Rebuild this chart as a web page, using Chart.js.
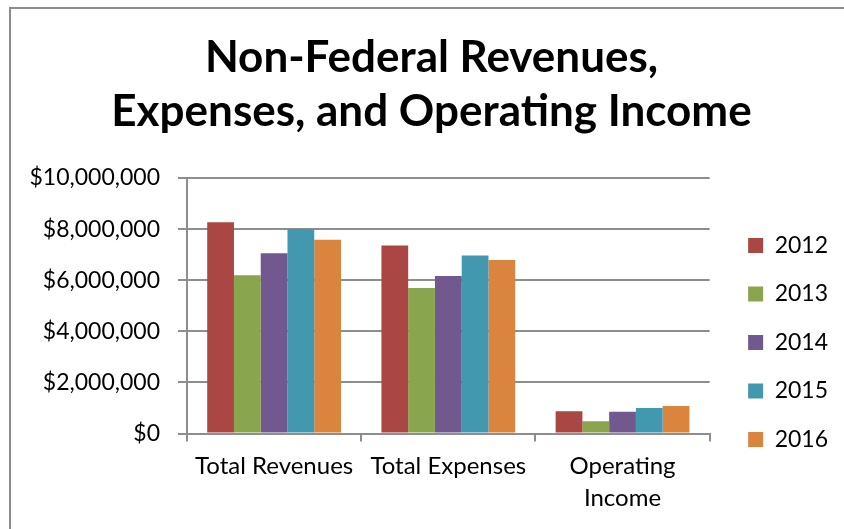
<!DOCTYPE html>
<html>
<head>
<meta charset="utf-8">
<script src="https://cdn.jsdelivr.net/npm/chart.js@4"></script>
<style>
  body { margin: 0; background: #fff; overflow: hidden; }
  #wrap { position: relative; width: 844px; height: 529px; }
  #frame { position: absolute; left: 9px; top: 7px; width: 900px; height: 600px;
           border-left: 2px solid #8c8c8c; border-top: 2px solid #8c8c8c; pointer-events: none; }
</style>
</head>
<body>
<div id="wrap">
  <canvas id="chart" width="844" height="529"></canvas>
  <div id="frame"></div>
</div>
<script>
const categories = ['Total Revenues', 'Total Expenses', ['Operating', 'Income']];
const years = ['2012', '2013', '2014', '2015', '2016'];
const colors = ['#AA4643', '#89A54E', '#71588F', '#4198AF', '#DB843D'];
// values per year: [revenues, expenses, operating income]
const v2012 = [8270000, 7360000, 875000];
const v2013 = [6190000, 5690000, 480000];
const v2014 = [7050000, 6160000, 850000];
const v2015 = [8000000, 6970000, 1000000];
const v2016 = [7580000, 6790000, 1080000];
const yTicks = [0, 2000000, 4000000, 6000000, 8000000, 10000000];

const series = [v2012, v2013, v2014, v2015, v2016];
const grey = '#8e8e8e';

new Chart(document.getElementById('chart'), {
    type: 'bar',
    data: {
        labels: categories,
        datasets: years.map((y, i) => ({
            label: y,
            data: series[i],
            backgroundColor: colors[i],
            borderWidth: 0
        }))
    },
    options: {
        responsive: false,
        animation: false,
        categoryPercentage: 0.768,
        barPercentage: 1,
        layout: { padding: { left: 25, right: 6, top: 0, bottom: 6.5 } },
        plugins: {
            title: {
                display: true,
                text: ['Non-Federal Revenues,', 'Expenses, and Operating Income'],
                color: '#000',
                font: { family: 'Lato', size: 44, weight: 'bold', lineHeight: '54px' },
                padding: { top: 31, bottom: 39 }
            },
            legend: {
                position: 'right',
                // empty title only pushes the items down
                title: { display: true, text: '', font: { size: 10, lineHeight: '10px' }, padding: { top: 152.5, bottom: 0 } },
                labels: {
                    boxWidth: 15, boxHeight: 15, padding: 25.5,
                    color: '#000',
                    font: { family: 'Lato', size: 23 }
                }
            },
            tooltip: { enabled: false }
        },
        scales: {
            x: {
                grid: { display: true, drawOnChartArea: false, offset: true, color: grey, lineWidth: 2, tickLength: 8 },
                border: { color: grey, width: 2 },
                ticks: { color: '#000', font: { family: 'Lato', size: 24, lineHeight: '32px' }, padding: 8.5, maxRotation: 0 }
            },
            y: {
                min: 0, max: 10000000,
                afterBuildTicks: axis => { axis.ticks = yTicks.map(v => ({ value: v })); },
                afterFit: s => { s.width = 162; },
                grid: { color: grey, lineWidth: 2, tickLength: 9 },
                border: { color: grey, width: 2 },
                ticks: {
                    color: '#000', font: { family: 'Lato', size: 23 }, padding: 18,
                    callback: v => '$' + v.toLocaleString('en-US')
                }
            },
            // spacer between plot and legend
            gap: {
                type: 'linear', position: 'right', display: true,
                grid: { display: false }, border: { display: false }, ticks: { display: false },
                afterFit: s => { s.width = 13; }
            }
        }
    }
});
</script>
</body>
</html>
